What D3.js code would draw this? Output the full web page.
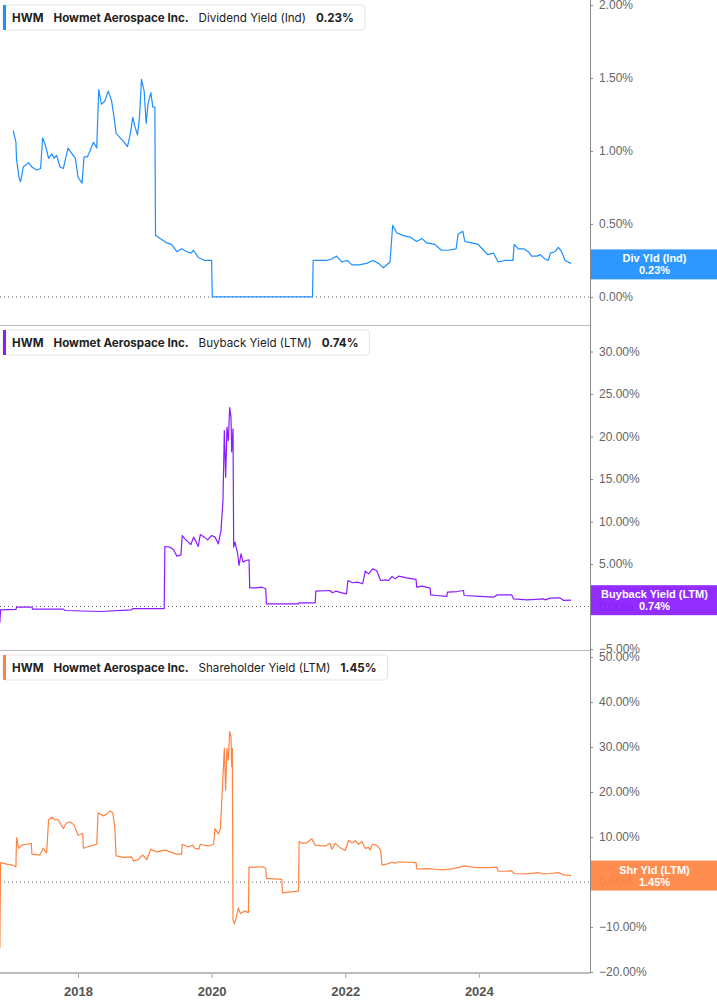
<!DOCTYPE html>
<html>
<head>
<meta charset="utf-8">
<title>HWM yields</title>
<script src="https://cdn.jsdelivr.net/npm/d3@7"></script>
<style>
  body { margin: 0; background: #fff; }
  svg { display: block; }
</style>
</head>
<body>
<svg id="svg"></svg>
<script>
var WIDTH = 717, HEIGHT = 1005;
var PLOT_RIGHT = 590;

// ---- data (decimal year, percent) ----
var divDates = [2017.03,2017.07,2017.08,2017.12,2017.14,2017.18,2017.26,2017.31,2017.38,2017.44,2017.47,2017.51,2017.56,2017.61,2017.64,2017.68,2017.73,2017.78,2017.85,2017.91,2017.96,2018.00,2018.06,2018.09,2018.14,2018.18,2018.23,2018.28,2018.31,2018.35,2018.40,2018.45,2018.50,2018.54,2018.57,2018.63,2018.69,2018.74,2018.78,2018.82,2018.85,2018.89,2018.92,2018.95,2018.99,2019.02,2019.05,2019.09,2019.12,2019.15,2019.16,2019.17,2019.23,2019.33,2019.40,2019.48,2019.55,2019.63,2019.69,2019.73,2019.80,2019.90,2020.00,2020.01,2021.51,2021.52,2021.57,2021.72,2021.80,2021.87,2021.95,2022.03,2022.10,2022.20,2022.32,2022.41,2022.50,2022.57,2022.67,2022.71,2022.77,2022.87,2022.97,2023.07,2023.15,2023.22,2023.34,2023.44,2023.54,2023.66,2023.69,2023.76,2023.79,2023.89,2023.99,2024.07,2024.13,2024.22,2024.29,2024.39,2024.51,2024.53,2024.59,2024.67,2024.74,2024.79,2024.87,2024.92,2024.99,2025.04,2025.07,2025.14,2025.19,2025.24,2025.29,2025.38];
var divValues = [1.14,1.06,0.94,0.81,0.79,0.89,0.92,0.89,0.87,0.88,1.09,1.04,0.95,0.98,0.95,0.97,0.89,0.88,1.02,0.98,0.95,0.82,0.78,0.96,0.96,1.00,1.06,1.02,1.42,1.32,1.34,1.41,1.35,1.23,1.12,1.09,1.06,1.03,1.11,1.23,1.17,1.11,1.23,1.49,1.41,1.19,1.33,1.40,1.30,1.30,0.42,0.42,0.40,0.37,0.36,0.31,0.33,0.31,0.30,0.32,0.27,0.25,0.25,0.00,0.00,0.25,0.25,0.25,0.26,0.28,0.24,0.25,0.22,0.22,0.23,0.25,0.23,0.20,0.24,0.49,0.44,0.42,0.41,0.38,0.40,0.37,0.36,0.32,0.32,0.33,0.43,0.45,0.38,0.37,0.36,0.32,0.29,0.30,0.24,0.25,0.25,0.36,0.33,0.33,0.31,0.28,0.28,0.29,0.26,0.25,0.30,0.31,0.34,0.31,0.25,0.23];

var buyDates = [2016.83,2016.84,2017.07,2017.08,2017.31,2017.32,2017.78,2017.81,2018.33,2018.80,2018.82,2019.29,2019.30,2019.38,2019.43,2019.48,2019.54,2019.56,2019.60,2019.65,2019.69,2019.73,2019.77,2019.80,2019.83,2019.89,2019.94,2020.00,2020.05,2020.10,2020.14,2020.17,2020.19,2020.21,2020.23,2020.25,2020.27,2020.29,2020.30,2020.32,2020.33,2020.35,2020.39,2020.41,2020.44,2020.47,2020.51,2020.56,2020.57,2020.67,2020.75,2020.81,2020.82,2021.30,2021.31,2021.55,2021.56,2021.77,2021.81,2021.86,2021.95,2022.02,2022.04,2022.11,2022.18,2022.26,2022.30,2022.35,2022.41,2022.47,2022.53,2022.60,2022.65,2022.70,2022.75,2022.80,2022.92,2023.06,2023.07,2023.15,2023.27,2023.28,2023.37,2023.52,2023.53,2023.67,2023.77,2023.78,2024.02,2024.22,2024.28,2024.49,2024.52,2024.72,2024.97,2024.99,2025.07,2025.21,2025.27,2025.38];
var buyValues = [-1.9,-0.39,-0.35,-0.08,-0.08,-0.32,-0.32,-0.47,-0.59,-0.39,-0.24,-0.24,7.06,6.98,6.67,5.92,6.08,8.35,7.96,7.57,7.29,8.16,7.57,7.06,8.47,8.16,7.84,8.35,8.16,7.37,8.94,12.5,20.7,15.2,21.1,19.5,23.4,22.3,18.2,20.9,6.98,7.57,6.2,4.82,6.2,5.21,5.41,5.49,2.2,2.2,2.27,2.08,0.31,0.31,0.43,0.43,1.8,1.88,1.61,1.8,1.61,1.49,3.06,2.79,2.86,2.67,4.16,3.84,4.43,4.24,3.06,3.14,3.06,3.53,3.25,3.57,3.37,3.18,2.27,2.39,2.16,1.37,1.29,1.18,1.69,1.76,1.88,1.29,1.18,1.1,1.37,1.37,0.9,0.78,0.9,0.78,0.98,1.02,0.71,0.74];

var shrDates = [2016.83,2016.84,2016.93,2017.01,2017.07,2017.08,2017.11,2017.16,2017.23,2017.30,2017.31,2017.43,2017.48,2017.53,2017.56,2017.61,2017.66,2017.70,2017.78,2017.82,2017.88,2017.94,2018.00,2018.07,2018.08,2018.18,2018.28,2018.30,2018.38,2018.43,2018.48,2018.52,2018.55,2018.57,2018.68,2018.80,2018.83,2018.90,2018.97,2019.03,2019.09,2019.18,2019.30,2019.38,2019.47,2019.55,2019.56,2019.65,2019.72,2019.75,2019.81,2019.83,2019.95,2020.03,2020.05,2020.10,2020.13,2020.15,2020.19,2020.21,2020.23,2020.25,2020.27,2020.29,2020.30,2020.31,2020.32,2020.34,2020.37,2020.40,2020.43,2020.50,2020.55,2020.56,2020.67,2020.77,2020.81,2020.82,2021.05,2021.06,2021.30,2021.31,2021.35,2021.42,2021.50,2021.55,2021.70,2021.77,2021.80,2021.85,2021.92,2022.00,2022.05,2022.10,2022.15,2022.20,2022.25,2022.30,2022.35,2022.37,2022.41,2022.47,2022.53,2022.55,2022.62,2022.70,2022.75,2022.80,2022.92,2023.06,2023.07,2023.22,2023.32,2023.47,2023.62,2023.79,2023.89,2024.02,2024.17,2024.27,2024.29,2024.39,2024.49,2024.53,2024.72,2024.89,2024.97,2025.07,2025.19,2025.27,2025.38];
var shrValues = [-14.7,4.3,4.0,3.8,3.4,9.9,7.5,8.2,8.4,8.6,6.2,6.0,7.5,6.5,13.9,14.4,13.8,13.9,11.9,13.0,13.4,12.7,10.4,10.8,7.5,8.0,8.4,15.4,14.7,15.1,15.8,15.4,12.3,5.8,5.5,5.6,4.7,5.0,6.0,5.0,7.3,6.7,7.1,6.7,6.2,6.2,8.4,7.8,8.2,7.5,7.3,8.4,8.0,8.4,11.9,10.7,11.9,17.5,29.7,20.4,29.7,27.1,33.4,32.3,25.6,29.7,-8.4,-9.3,-7.7,-5.8,-7.0,-6.4,-6.8,3.3,3.3,3.4,3.0,0.8,0.6,-2.4,-2.0,9.0,8.6,8.7,9.6,8.2,8.0,8.6,7.3,8.6,7.7,7.0,9.3,8.7,9.2,8.4,9.0,7.5,7.7,7.1,8.4,8.2,7.1,3.8,4.0,4.4,4.2,4.5,4.4,4.3,2.9,3.0,2.9,2.7,3.0,3.6,3.3,3.2,3.2,3.3,2.4,2.4,2.5,1.9,1.8,2.1,1.8,1.9,2.1,1.6,1.45];

var yearTicks = [2018, 2020, 2022, 2024];
var divTicks = [0, 0.5, 1, 1.5, 2];
var buyTicks = [-5, 0, 5, 10, 15, 20, 25, 30];
var shrTicks = [-20, -10, 0, 10, 20, 30, 40, 50];

var ticker = "HWM", company = "Howmet Aerospace Inc.";
var seriesNames = ["Dividend Yield (Ind)", "Buyback Yield (LTM)", "Shareholder Yield (LTM)"];
var shortNames = ["Div Yld (Ind)", "Buyback Yield (LTM)", "Shr Yld (LTM)"];
var lastValues = ["0.23%", "0.74%", "1.45%"];

var svg = d3.select('#svg').attr('width', WIDTH).attr('height', HEIGHT);

var x = d3.scaleLinear().domain([2016.832, 2025.664]).range([0, PLOT_RIGHT]);

var panels = [
  { dates: divDates, values: divValues, ticks: divTicks, top: 0, bottom: 325, domain: [-0.192, 2.034], color: "#1e8fff" },
  { dates: buyDates, values: buyValues, ticks: buyTicks, top: 325, bottom: 650, domain: [-5.12, 33.12], color: "#8a1cff" },
  { dates: shrDates, values: shrValues, ticks: shrTicks, top: 650, bottom: 973, domain: [-20.2, 51.55], color: "#ff8443" }
];

var pctFmt = function(d){ return d3.format(".2f")(d) + "%"; };

panels.forEach(function(p, i){
  var y = d3.scaleLinear().domain(p.domain).range([p.bottom, p.top]);
  var g = svg.append('g');

  // zero line
  g.append('line')
   .attr('x1', 0).attr('x2', PLOT_RIGHT)
   .attr('y1', y(0)).attr('y2', y(0))
   .attr('stroke', '#666').attr('stroke-width', 1)
   .attr('stroke-dasharray', '1,3');

  // separator at panel bottom
  if (i < 2) {
    g.append('line')
     .attr('x1', 0).attr('x2', PLOT_RIGHT)
     .attr('y1', p.bottom + 0.5).attr('y2', p.bottom + 0.5)
     .attr('stroke', '#bbb').attr('stroke-width', 1);
  }

  // series line
  var pts = p.dates.map(function(d, k){ return [d, p.values[k]]; });
  var line = d3.line()
    .x(function(d){ return x(d[0]); })
    .y(function(d){ return y(d[1]); });
  g.append('path')
   .datum(pts)
   .attr('d', line)
   .attr('fill', 'none')
   .attr('stroke', p.color)
   .attr('stroke-width', 1.2)
   .attr('stroke-linejoin', 'round');

  // right axis
  var ax = g.append('g')
   .attr('transform', 'translate(' + PLOT_RIGHT + ',0)')
   .call(d3.axisRight(y).tickValues(p.ticks).tickSize(3).tickPadding(6).tickFormat(pctFmt));
  ax.select('.domain').remove();
  ax.selectAll('line').attr('stroke', '#888');
  ax.selectAll('text')
    .attr('fill', '#666')
    .attr('font-family', 'Liberation Sans, Arial, sans-serif')
    .attr('font-size', '12px');

  // legend box, texts laid out one after another
  var lg = g.append('g').attr('transform', 'translate(3,' + (p.top + 5) + ')');
  var box = lg.append('rect')
    .attr('x', 0).attr('y', 0).attr('height', 25)
    .attr('rx', 3).attr('fill', '#fff')
    .attr('stroke', '#e4e4e4');
  lg.append('rect')
    .attr('x', 0).attr('y', 0).attr('width', 3).attr('height', 25)
    .attr('fill', p.color);
  var lt = [
    { t: ticker, w: 'bold' },
    { t: company, w: 'bold' },
    { t: seriesNames[i], w: 'normal' },
    { t: lastValues[i], w: 'bold' }
  ];
  var cx = 9;
  lt.forEach(function(d){
    var t = lg.append('text')
      .text(d.t)
      .attr('x', cx)
      .attr('y', 17)
      .attr('font-family', 'Inter, sans-serif')
      .attr('font-size', '11.6px')
      .attr('font-weight', d.w)
      .attr('fill', '#222');
    cx += t.node().getComputedTextLength() + 10;
  });
  box.attr('width', cx + 1);

  // last value box
  var lastV = p.values[p.values.length - 1];
  var by = y(lastV);
  if (i === 0) by = y(lastV) + 1;
  var bg = g.append('g').attr('transform', 'translate(' + (PLOT_RIGHT + 1) + ',' + (by - 15) + ')');
  bg.append('rect')
    .attr('width', WIDTH - PLOT_RIGHT - 1).attr('height', 30)
    .attr('fill', p.color).attr('opacity', 0.93);
  bg.append('text')
    .text(shortNames[i])
    .attr('x', (WIDTH - PLOT_RIGHT) / 2).attr('y', 13)
    .attr('text-anchor', 'middle')
    .attr('font-family', 'Liberation Sans, Arial, sans-serif')
    .attr('font-size', '11px').attr('font-weight', 'bold')
    .attr('fill', '#fff');
  bg.append('text')
    .text(lastValues[i])
    .attr('x', (WIDTH - PLOT_RIGHT) / 2).attr('y', 25)
    .attr('text-anchor', 'middle')
    .attr('font-family', 'Liberation Sans, Arial, sans-serif')
    .attr('font-size', '11px').attr('font-weight', 'bold')
    .attr('fill', '#fff');
});

// vertical right axis line
svg.append('line')
  .attr('x1', PLOT_RIGHT + 0.5).attr('x2', PLOT_RIGHT + 0.5)
  .attr('y1', 0).attr('y2', 973)
  .attr('stroke', '#888').attr('stroke-width', 1);

// bottom x axis
var xa = svg.append('g')
  .attr('transform', 'translate(0,973)')
  .call(d3.axisBottom(x).tickValues(yearTicks).tickSize(5).tickPadding(9).tickFormat(d3.format('d')));
xa.select('.domain').remove();
xa.selectAll('line').attr('stroke', '#aaa');
xa.selectAll('text')
  .attr('fill', '#555')
  .attr('font-family', 'Liberation Sans, Arial, sans-serif')
  .attr('font-size', '13px')
  .attr('font-weight', 'bold');
svg.append('line')
  .attr('x1', 0).attr('x2', PLOT_RIGHT)
  .attr('y1', 973).attr('y2', 973)
  .attr('stroke', '#bbb').attr('stroke-width', 2);
</script>
</body>
</html>
